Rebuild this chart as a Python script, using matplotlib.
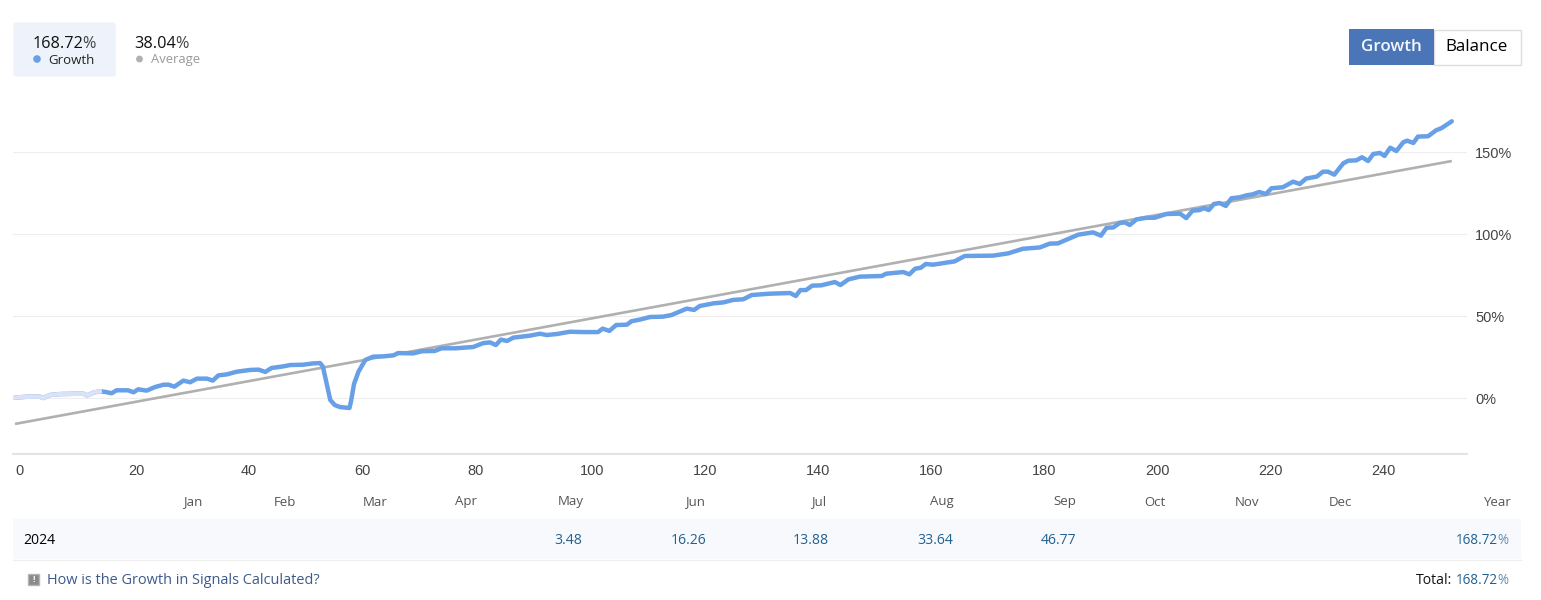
import matplotlib
matplotlib.use('Agg')
import matplotlib.pyplot as plt
from matplotlib.patches import Rectangle, FancyBboxPatch, Circle

plt.rcParams['font.family'] = ['Open Sans', 'DejaVu Sans']

# growth curve: trade number, percent
trade = [0, 2.1, 4.4, 5, 6.2, 8, 11, 12.1, 12.8, 13.9, 15, 16, 17.1, 18, 20, 21, 21.8, 23.3, 24.8,
         26.3, 27.2, 28.2, 29.8, 31, 32.2, 34, 35, 36, 37.5, 39.2, 41.6, 43.1, 44.3, 45.4, 47.5,
         48.7, 51, 52.8, 54, 54.5, 55.8, 56.6, 57.5, 59.2, 59.5, 60, 60.8, 62, 63.4, 65.2, 67, 67.8,
         70.5, 72, 74.3, 75.5, 77.9, 81.1, 82.9, 84.1, 85.1, 86, 87.1, 88.2, 91.1, 92.9, 94.1,
         95.9, 98.2, 100.6, 103.2, 104, 105.2, 106.4, 108.3, 109.1, 110.6, 112.4, 114.7, 116.2,
         118.9, 120.2, 121.2, 123.6, 125.4, 127.1, 128.9, 130.4, 133.6, 137.2, 138.2, 139, 140,
         141.1, 142.7, 145.1, 146.1, 147.5, 149.5, 153.4, 154.2, 157.2, 158.3, 159.3, 160.3,
         161.2, 162.5, 166.3, 168.1, 173.1, 175.8, 178.4, 181.4, 183.1, 184.6, 188.2, 190.8,
         192.2, 193.2, 194.4, 195.5, 196.4, 197.3, 198.5, 200.3, 201.7, 203.8, 206.2, 207.3,
         208.4, 209.7, 210.4, 211.3, 212.2, 213.2, 214.3, 215.3, 216.8, 218, 219.1, 220.2, 221.4,
         222.4, 224.4, 226.2, 227.4, 228.5, 230.4, 231.5, 232.4, 233.5, 235.1, 236, 237.4, 238.4,
         239.5, 240.4, 241.6, 242.4, 243.4, 244.5, 245.7, 246.4, 247.5, 248.3, 250.1, 251.5,
         252.5, 254.3]
growth = [0.2, 0.8, 0.8, 0, 1.8, 2.4, 2.6, 2.6, 1.6, 3.3, 4.1, 3.7, 2.9, 4.7, 4.7, 3.5, 5.3, 4.5, 6.7,
          8.1, 8.1, 6.9, 10.6, 9.6, 11.8, 11.8, 10.6, 13.8, 14.4, 16, 17.1, 17.3, 15.9, 18.3, 19.3,
          20.1, 20.3, 21.1, 21.3, 19.1, -1.2, -4.3, -5.5, -6.1, -1.5, 8.5, 16.1, 23.2, 25.2, 25.4, 26, 27.4,
          27.2, 28.5, 28.7, 30.3, 30.3, 31.1, 33.5, 33.9, 32.3, 35.6, 34.8, 36.8, 38, 39.2, 38.4,
          39, 40.4, 40.2, 40.2, 42.3, 40.9, 44.5, 44.7, 46.8, 47.8, 49.4, 49.6, 50.6,
          54.5, 53.7, 56.1, 57.7, 58.3, 59.8, 60.2, 62.8, 63.6, 64, 62.2, 65.8, 65.8,
          68.5, 68.7, 70.7, 68.9, 72.3, 74, 74.4, 75.8, 76.8, 75.4, 78.8, 79.4,
          81.7, 81.3, 83.3, 86.6, 86.8, 88.2, 91, 91.8, 94.1, 94.3, 99.6, 101,
          99, 103.8, 104, 106.7, 107.1, 105.5, 108.9, 109.9, 109.9, 112.2, 112.4, 109.7,
          114.2, 114.6, 115.8, 114.6, 118.3, 118.9, 117.1, 121.8, 122.4, 123.6, 124.2, 125.6, 124.4,
          127.9, 128.5, 131.9, 130.5, 133.8, 135, 138, 138, 136.2, 143.1, 144.7, 144.9, 146.8,
          144.5, 148.8, 149.4, 147.6, 152.6, 150.6, 155.9, 156.9, 155.5, 159.4, 159.6, 163.2,
          164.6, 168.72]
light_count = 11

avg_trade = [0, 254.3]
avg_growth = [-15.8, 144.5]

xticks = [0, 20, 40, 60, 80, 100, 120, 140, 160, 180, 200, 220, 240]
yticks = [0, 50, 100, 150]
ylabels = ['0%', '50%', '100%', '150%']

months = ['Jan', 'Feb', 'Mar', 'Apr', 'May', 'Jun', 'Jul', 'Aug', 'Sep', 'Oct', 'Nov', 'Dec']
month_values = ['', '', '', '', '3.48', '16.26', '13.88', '33.64', '46.77', '', '', '']
year = '2024'
year_total = '168.72'

W, H = 1541, 600
fig = plt.figure(figsize=(W / 100, H / 100), dpi=100)

# page layer in pixel coordinates
bg = fig.add_axes([0, 0, 1, 1])
bg.set_xlim(0, W)
bg.set_ylim(H, 0)
bg.axis('off')

px = 0.72  # font points per pixel at dpi 100


def percent_text(x, y, number, size, color, pct_color):
    # number ends at x, the lighter percent sign follows it
    bg.text(x, y, number, fontsize=size * px, color=color, ha='right', va='center')
    bg.text(x - 0.5, y, '%', fontsize=size * px, color=pct_color, ha='left', va='center')


# top left summary
bg.add_patch(FancyBboxPatch((14, 23), 101, 53, boxstyle='round,pad=0,rounding_size=2',
                            fc='#eef3fb', ec='#eef3fb', lw=1))
percent_text(83, 43.5, '168.72', 16.3, '#111111', '#444444')
bg.add_patch(Circle((37, 59), 3.8, fc='#67a0e6', ec='none'))
bg.text(48, 60, 'Growth', fontsize=13.2 * px, color='#222222', va='center')
percent_text(176, 43.5, '38.04', 16.3, '#111111', '#444444')
bg.add_patch(Circle((139.5, 59), 3.4, fc='#b0b0b0', ec='none'))
bg.text(151, 60, 'Average', fontsize=13 * px, color='#999999', va='center')

# buttons
bg.add_patch(Rectangle((1434, 29.5), 87, 35, fc='white', ec='#dddddd', lw=1))
bg.add_patch(Rectangle((1349, 29), 85, 36, fc='#4a76b8', ec='none'))
bg.text(1391.5, 47, 'Growth', fontsize=17 * px, color='#f4f7fb', ha='center', va='center', weight='semibold')
bg.text(1477, 47, 'Balance', fontsize=17 * px, color='black', ha='center', va='center')

# table under the chart
month_x = [193, 285, 375, 466, 571, 695, 819, 942, 1065, 1155, 1247, 1340]
value_right = [0, 0, 0, 0, 582, 706, 829, 953, 1076, 0, 0, 0]
for name, mx in zip(months, month_x):
    bg.text(mx, 502, name, fontsize=13.2 * px, color='#555555', ha='center', va='center')
bg.text(1511, 502, 'Year', fontsize=13.2 * px, color='#555555', ha='right', va='center')
bg.add_patch(Rectangle((13, 519), 1508, 40, fc='#f8f9fd', ec='none'))
bg.plot([13, 1521], [559.5, 559.5], color='#eeeeee', lw=0.8)
bg.text(23, 540, year, fontsize=14 * px, color='black', va='center')
for val, vx in zip(month_values, value_right):
    if val:
        bg.text(vx, 540, val, fontsize=14 * px, color='#22618f', ha='right', va='center')
percent_text(1498, 540, year_total, 13.5, '#22618f', '#5f8fb5')

# footer
bg.add_patch(Rectangle((28, 574), 11, 11, fc='#8a8a8a', ec='#b5b5b5', lw=1))
bg.text(33.5, 579.5, '!', fontsize=8 * px, color='white', ha='center', va='center', weight='bold')
bg.text(47, 581, 'How is the Growth in Signals Calculated?', fontsize=14.5 * px, color='#3e5a8c', va='center')
bg.text(1452, 581, 'Total:', fontsize=14 * px, color='#111111', ha='right', va='center')
percent_text(1498, 581, year_total, 13.5, '#22618f', '#5f8fb5')

# chart, axes box spans pixels x 13-1467, y 90-454
ax = fig.add_axes([13 / W, 1 - 454 / H, (1467 - 13) / W, (454 - 90) / H])
ax.patch.set_alpha(0)
ax.set_xlim((13 - 15) / 5.65, (1467 - 15) / 5.65)
ax.set_ylim((398 - 454) / 1.64, (398 - 90) / 1.64)
for side in ['top', 'left', 'right']:
    ax.spines[side].set_visible(False)
ax.spines['bottom'].set_color('#e3e3e3')
ax.spines['bottom'].set_linewidth(1.5)
ax.yaxis.tick_right()
ax.set_yticks(yticks)
ax.set_yticklabels(ylabels, fontsize=14.5 * px, color='#444444', family='Liberation Sans')
ax.tick_params(axis='y', length=0, pad=6)
ax.set_xticks(xticks)
ax.set_xticklabels([str(t) for t in xticks], fontsize=14.5 * px, color='#444444',
                   family='Liberation Sans', ha='left')
ax.tick_params(axis='x', length=0, pad=7.5)
ax.grid(axis='y', color='#eeeeee', lw=0.8)
ax.set_axisbelow(True)

ax.plot(avg_trade, avg_growth, color='#b0b0b0', lw=1.9, solid_capstyle='butt')
ax.plot(trade, growth, color='#67a0e6', lw=3.2, solid_joinstyle='round', solid_capstyle='round')
ax.plot(trade[:light_count], growth[:light_count], color='#dbe1f6', lw=3.2, solid_joinstyle='round')

fig.savefig('out.png', dpi=100)
